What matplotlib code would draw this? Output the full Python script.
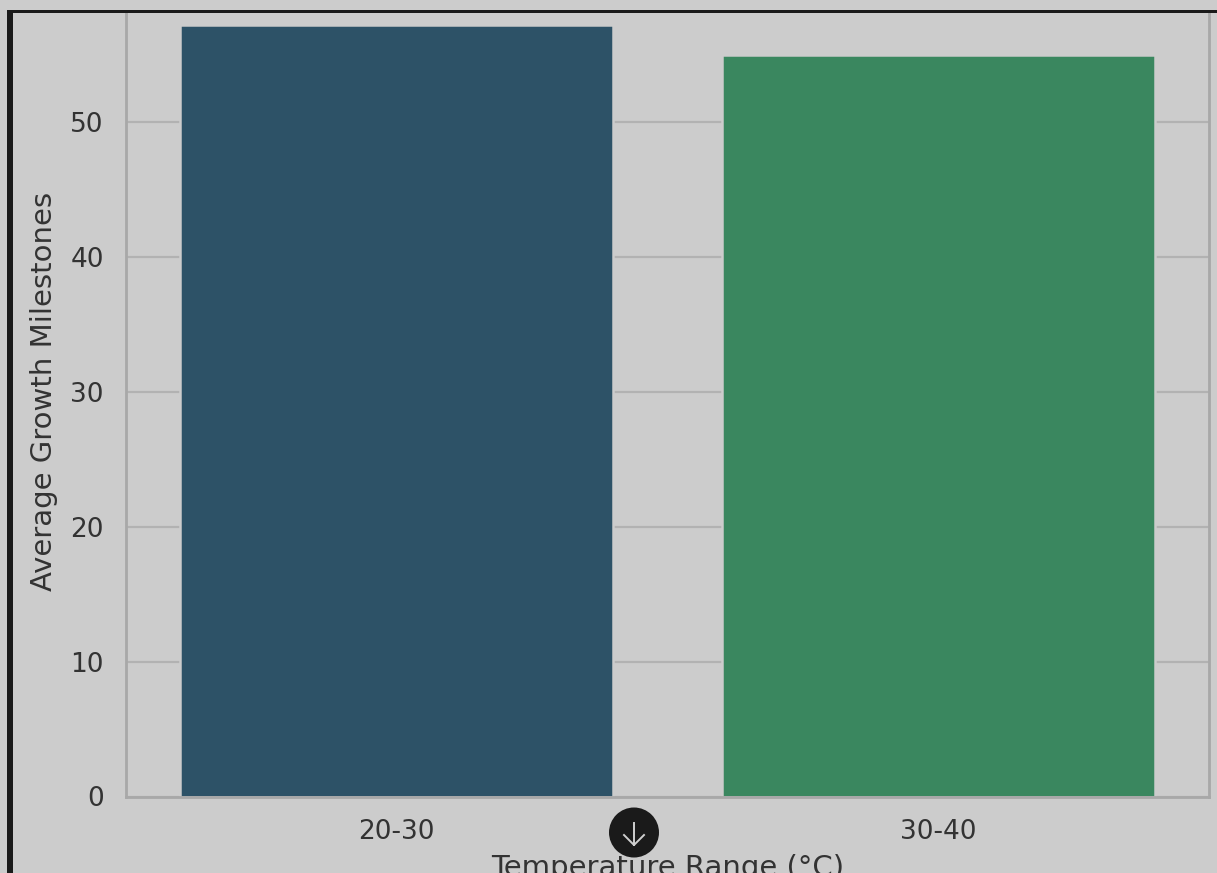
import matplotlib
matplotlib.use("Agg")
import matplotlib.pyplot as plt
from matplotlib.patches import Circle, Rectangle
from matplotlib.lines import Line2D
from matplotlib.transforms import Affine2D

categories = ["20-30", "30-40"]
values = [57.2, 54.95]
colors = ["#2d5267", "#3a875f"]
yticks = [0, 10, 20, 30, 40, 50]

W, H = 1217, 873
BG = "#cccccc"
TOP = 796.5 - 60 * 13.49
fig = plt.figure(figsize=(W / 100, H / 100), dpi=100, facecolor=BG)
ax = fig.add_axes([126 / W, 1 - 796.5 / H, (1209 - 126) / W, (796.5 - TOP) / H])
ax.set_facecolor(BG)
ax.set_axisbelow(True)
ax.grid(axis="y", color="#b2b2b2", lw=1.6)
ax.bar(categories, values, width=0.8, color=colors, edgecolor=BG, linewidth=1.8)
ax.set_xlim(-0.5, 1.5)
ax.set_ylim(0, 60)
ax.set_yticks(yticks)
ax.tick_params(length=0, labelsize=19, labelcolor="#333333", pad=16)
ax.tick_params(axis="x", pad=16)
ax.set_ylabel("Average Growth Milestones", fontsize=21, color="#333333", labelpad=9)
ax.set_xlabel("Temperature Range (°C)", fontsize=21, color="#333333", labelpad=7)
ax.spines["top"].set_visible(False)
for s in ["left", "right", "bottom"]:
    ax.spines[s].set_color("#a8a8a8")
    ax.spines[s].set_linewidth(2)

# overlay in pixel coordinates (y downward)
px = Affine2D().scale(1 / W, -1 / H).translate(0, 1) + fig.transFigure
dark = "#1a1a1a"
fig.add_artist(Rectangle((0, 0), W, 11, transform=px, color=BG, lw=0, zorder=9))
fig.add_artist(Rectangle((7, 10), 5.5, H, transform=px, color=dark, lw=0, zorder=10))
fig.add_artist(Rectangle((7, 10), W, 2.5, transform=px, color=dark, lw=0, zorder=10))
fig.add_artist(Circle((634, 832.5), 25, transform=px, color=dark, lw=0, zorder=11))
for xs, ys in [([634, 634], [823, 845]), ([624, 634, 644], [835, 845, 835])]:
    fig.add_artist(Line2D(xs, ys, transform=px, color="#cfcfcf", lw=1.4, zorder=12))

fig.savefig("out.png", dpi=100, facecolor=BG)
